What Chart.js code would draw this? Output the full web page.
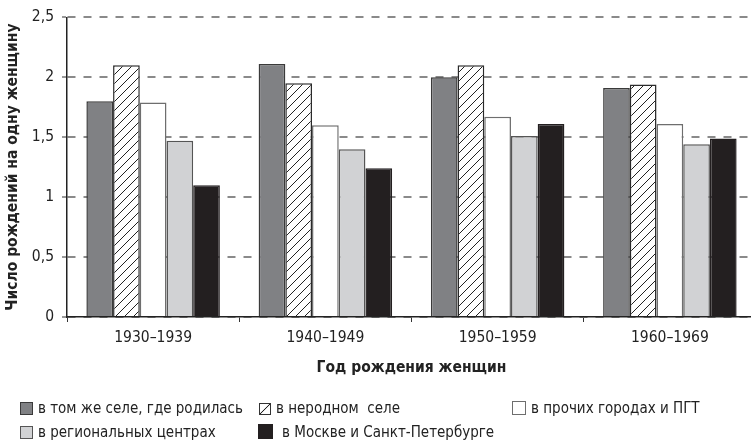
<!DOCTYPE html>
<html lang="ru">
<head>
<meta charset="utf-8">
<title>Число рождений на одну женщину</title>
<script src="https://cdn.jsdelivr.net/npm/chart.js@4/dist/chart.umd.min.js"></script>
<style>
    html, body {
        margin: 0;
        padding: 0;
        background: #fff;
        overflow: hidden;
    }
    #wrap {
        position: relative;
        width: 756px;
        height: 443px;
    }
    #legend {
        position: absolute;
        left: 0;
        top: 0;
        width: 751px;
        height: 443px;
        pointer-events: none;
        font-family: "Liberation Sans Narrow", "DejaVu Sans Condensed", sans-serif;
        font-size: 15px;
        color: #222;
    }
    .item {
        position: absolute;
        white-space: pre;
        line-height: 18px;
    }
    .box {
        display: inline-block;
        vertical-align: -2px;
        box-sizing: border-box;
        border: 1px solid #333;
        margin-right: 5px;
    }
</style>
</head>
<body>
<div id="wrap">
    <canvas id="chart" width="756" height="443"></canvas>
    <div id="legend"></div>
</div>
<script>
"use strict";

// Kategorier (x-axel)
const categories = ["1930\u20131939", "1940\u20131949", "1950\u20131959", "1960\u20131969"];

// Serier
const seriesLabels = [
    "в том же селе, где родилась",
    "в неродном  селе",
    "в прочих городах и ПГТ",
    "в региональных центрах",
    "в Москве и Санкт-Петербурге"
];
const sameVillage = [1.80, 2.11, 2.00, 1.91];
const otherVillage = [2.10, 1.95, 2.10, 1.94];
const otherTowns = [1.79, 1.60, 1.67, 1.61];
const regionalCenters = [1.47, 1.40, 1.51, 1.44];
const capitals = [1.10, 1.24, 1.61, 1.49];

// Y-axelns etiketter
const yTickLabels = ["0", "0,5", "1", "1,5", "2", "2,5"];

const FONT = "'Liberation Sans Narrow', 'DejaVu Sans Condensed', sans-serif";

// Snedstreckat mönster för "неродное село"
function makeHatch() {
    const size = 9;
    const c = document.createElement("canvas");
    c.width = size;
    c.height = size;
    const g = c.getContext("2d");
    g.fillStyle = "#fff";
    g.fillRect(0, 0, size, size);
    g.strokeStyle = "#222";
    g.lineWidth = 1;
    g.beginPath();
    g.moveTo(-1, size + 1);
    g.lineTo(size + 1, -1);
    g.moveTo(-1, 1);
    g.lineTo(1, -1);
    g.moveTo(size - 1, size + 1);
    g.lineTo(size + 1, size - 1);
    g.stroke();
    return g.createPattern(c, "repeat");
}

const ctx = document.getElementById("chart").getContext("2d");
const hatch = makeHatch();

const fills = ["#808184", hatch, "#ffffff", "#d1d2d4", "#231f20"];
const borders = ["#3a3a3a", "#2a2a2a", "#6e6e6e", "#555555", "#231f20"];
const values = [sameVillage, otherVillage, otherTowns, regionalCenters, capitals];

new Chart(ctx, {
    type: "bar",
    data: {
        labels: categories,
        datasets: values.map((v, i) => ({
            label: seriesLabels[i],
            data: v,
            backgroundColor: fills[i],
            borderColor: borders[i],
            borderWidth: 1.5,
            borderSkipped: "bottom",
            categoryPercentage: 0.775,
            barPercentage: 1.0
        }))
    },
    options: {
        responsive: false,
        animation: false,
        layout: {
            padding: { top: 16, right: 0, bottom: 66, left: 0 }
        },
        plugins: {
            legend: { display: false },
            tooltip: { enabled: false }
        },
        scales: {
            x: {
                afterFit: (scale) => { scale.height = 60; },
                grid: {
                    offset: true,
                    drawOnChartArea: false,
                    drawTicks: true,
                    tickLength: 5,
                    tickColor: "#333",
                    tickWidth: 1
                },
                border: { display: true, color: "#222", width: 1.5 },
                ticks: {
                    padding: 7,
                    color: "#222",
                    font: { family: FONT, size: 15.5 }
                },
                title: {
                    display: true,
                    text: "Год рождения женщин",
                    color: "#222",
                    padding: { top: 0, bottom: 0 },
                    font: { family: FONT, size: 15.5, weight: "bold" }
                }
            },
            y: {
                min: 0,
                max: 2.5,
                afterFit: (scale) => { scale.width = 67; },
                ticks: {
                    stepSize: 0.5,
                    padding: 8,
                    color: "#222",
                    font: { family: FONT, size: 15.5 },
                    callback: (value, index) => yTickLabels[index]
                },
                grid: {
                    color: "#8a8a8a",
                    lineWidth: 2,
                    tickLength: 5,
                    tickColor: "#333",
                    tickWidth: 1
                },
                border: { display: true, color: "#222", width: 1.5, dash: [8, 8] },
                title: {
                    display: true,
                    text: "Число рождений на одну женщину",
                    color: "#222",
                    padding: { top: 4, bottom: 0 },
                    font: { family: FONT, size: 15.5, weight: "bold" }
                }
            }
        }
    }
});

// Egen förklaring i tre kolumner
const legendPos = [
    { x: 20, y: 399 }, { x: 259, y: 399 }, { x: 512, y: 399 },
    { x: 20, y: 423 }, { x: 258, y: 423 }
];
const boxSize = [13, 12, 14, 13, 15];
const legend = document.getElementById("legend");
seriesLabels.forEach((label, i) => {
    const item = document.createElement("div");
    item.className = "item";
    item.style.left = legendPos[i].x + "px";
    item.style.top = legendPos[i].y + "px";
    const box = document.createElement("span");
    box.className = "box";
    box.style.width = boxSize[i] + "px";
    box.style.height = boxSize[i] + "px";
    if (i === 1) {
        // en enda diagonal "/" som i originalet
        box.style.background = "linear-gradient(to bottom right, #fff calc(50% - 0.8px), #222 50%, #fff calc(50% + 0.8px))";
    } else {
        box.style.background = fills[i];
        box.style.borderColor = borders[i];
    }
    if (i === 4) {
        box.style.marginRight = "9px";
    }
    item.appendChild(box);
    item.appendChild(document.createTextNode(label));
    legend.appendChild(item);
});
</script>
</body>
</html>
